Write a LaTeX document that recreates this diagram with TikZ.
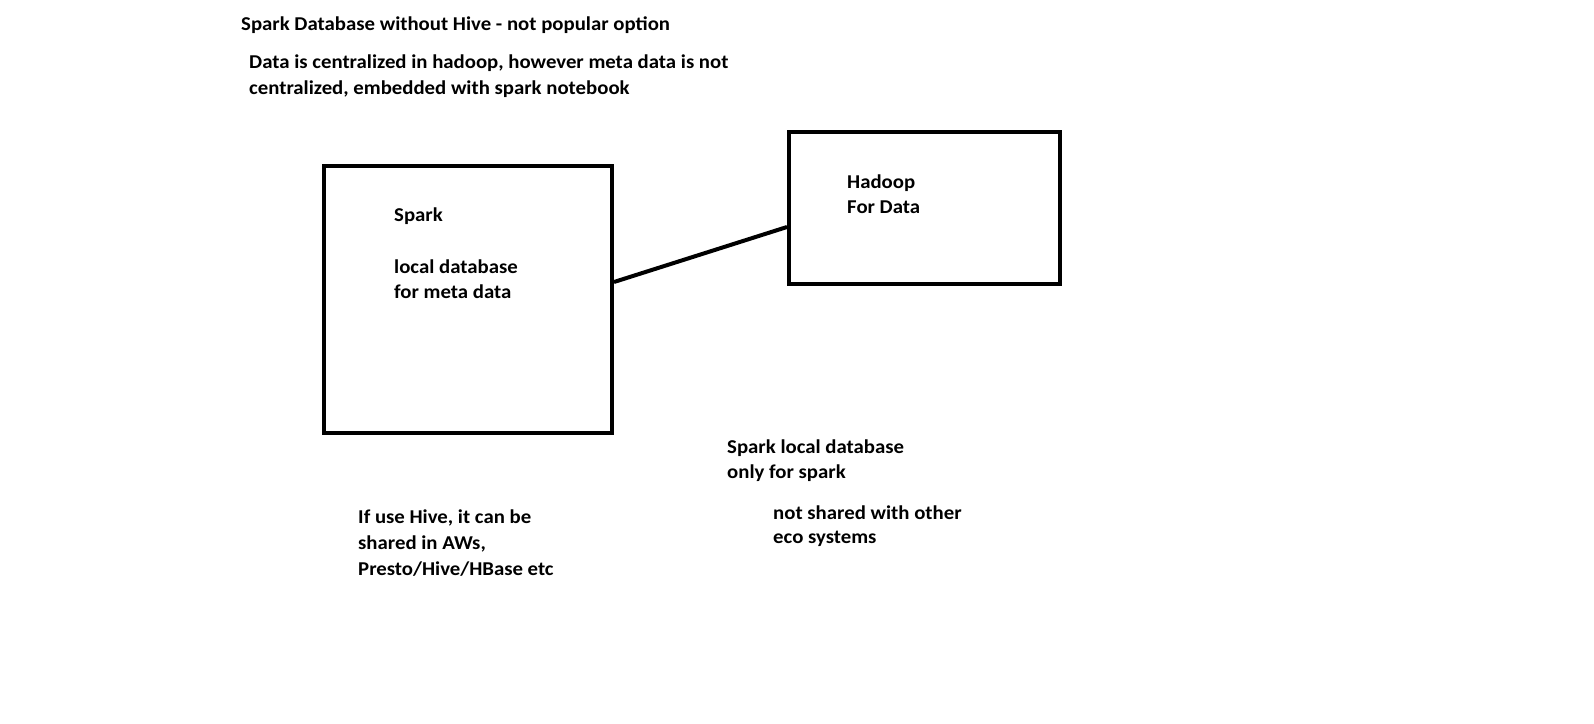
\documentclass[tikz,border=0pt]{standalone}
\usepackage{fontspec}
\setmainfont{Carlito}[FakeStretch=1.06]
\begin{document}
\begin{tikzpicture}[x=1pt,y=-1pt,
  txt/.style={anchor=base west,inner sep=0pt,font=\fontsize{19.6}{25.7}\selectfont\bfseries},
  box/.style={draw,line width=4pt,rectangle,inner sep=0pt},
  link/.style={line width=4pt}]
\useasboundingbox[fill=white] (0,0) rectangle (1594,723);
% boxes
\node[box,minimum width=288pt,minimum height=267pt] (spark) at (468,299.5) {};
\node[box,minimum width=271pt,minimum height=152pt] (hadoop) at (924.5,208) {};
\draw[link] ([yshift=17.5pt]spark.east) -- ([yshift=-19pt]hadoop.west);
% header
\node[txt] (t1) at (241,30) {Spark Database without Hive - not popular option};
\node[txt] (t2) at (249,68) {Data is centralized in hadoop, however meta data is not};
\node[txt] (t3) at (249,94) {centralized, embedded with spark notebook};
% spark box text
\node[txt] (s1) at (394,221) {Spark};
\node[txt] (s2) at (394,273) {local database};
\node[txt] (s3) at (394,298) {for meta data};
% hadoop box text
\node[txt] (h1) at (847,188) {Hadoop};
\node[txt] (h2) at (847,213) {For Data};
% bottom notes
\node[txt] (b1) at (358,523) {If use Hive, it can be};
\node[txt] (b2) at (358,549) {shared in AWs,};
\node[txt] (b3) at (358,575) {Presto/Hive/HBase etc};
\node[txt] (c1) at (727,453) {Spark local database};
\node[txt] (c2) at (727,478) {only for spark};
\node[txt] (d1) at (773,519) {not shared with other};
\node[txt] (d2) at (773,543) {eco systems};
\end{tikzpicture}
\end{document}
